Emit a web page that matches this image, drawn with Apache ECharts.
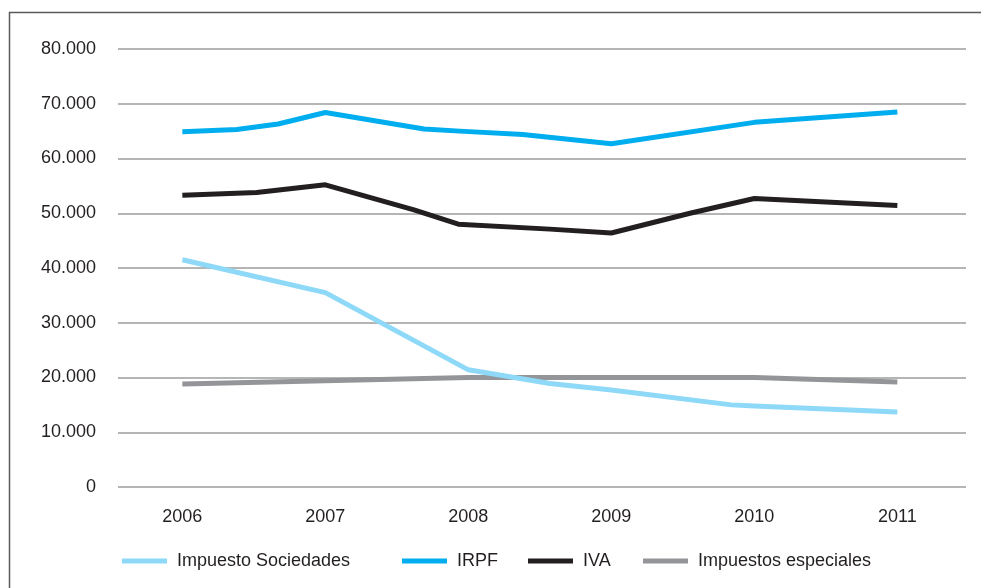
<!DOCTYPE html>
<html>
<head>
<meta charset="utf-8">
<script src="https://cdn.jsdelivr.net/npm/echarts@6/dist/echarts.min.js"></script>
<style>
html,body{margin:0;padding:0;background:#fff;}
#chart{width:981px;height:588px;}
</style>
</head>
<body>
<div id="chart"></div>
<script>
// Category (year) tick labels
const years = [2006, 2007, 2008, 2009, 2010, 2011];
const yTicks = [0, 10000, 20000, 30000, 40000, 50000, 60000, 70000, 80000];

// Series names
const seriesNames = ['Impuesto Sociedades', 'IRPF', 'IVA', 'Impuestos especiales'];

// Values: [year position, value]
const sociedades = [[2006, 41500], [2007, 35500], [2008, 21400], [2008.57, 18900], [2009, 17700], [2009.84, 15000], [2010, 14800], [2011, 13700]];
const irpf = [[2006, 64900], [2006.38, 65300], [2006.67, 66300], [2007, 68400], [2007.69, 65400], [2007.94, 65000], [2008.38, 64400], [2009, 62700], [2010, 66600], [2011, 68500]];
const iva = [[2006, 53300], [2006.52, 53800], [2007, 55200], [2007.62, 50600], [2007.93, 48000], [2008.57, 47100], [2009, 46400], [2009.55, 50000], [2010, 52700], [2011, 51400]];
const especiales = [[2006, 18800], [2007, 19400], [2008, 20000], [2009, 20000], [2010, 20000], [2011, 19200]];

const colors = ['#8ED8F8', '#00AEEF', '#231F20', '#939598'];
const FONT = "'Liberation Sans', Arial, sans-serif";
const FS = 18;
const TXT = '#231F20';

function fmt(v) {
  return String(v).replace(/\B(?=(\d{3})+(?!\d))/g, '.');
}

const chart = echarts.init(document.getElementById('chart'), null, {renderer: 'canvas'});

const legendLefts = [122, 402, 528, 643];
const legends = seriesNames.map((n, i) => ({
  data: [n],
  left: legendLefts[i],
  top: 552,
  padding: 0,
  orient: 'horizontal',
  icon: 'rect',
  itemWidth: 45,
  itemHeight: 5,
  selectedMode: false,
  textStyle: {fontFamily: FONT, fontSize: FS, color: TXT, padding: [0, 0, 0, 5]}
}));

const dataSets = [sociedades, irpf, iva, especiales];

chart.setOption({
  animation: false,
  backgroundColor: '#fff',
  color: colors,
  graphic: [{
    type: 'rect',
    shape: {x: 9.5, y: 12.5, width: 1000, height: 600},
    style: {fill: null, stroke: '#5a5a5a', lineWidth: 1.5},
    silent: true,
    z: 100
  }],
  legend: legends,
  grid: {left: 118, right: 15, top: 49, height: 438, containLabel: false, outerBoundsMode: 'none'},
  xAxis: {
    type: 'value',
    min: 2005.55,
    max: 2011.48,
    axisLine: {show: false},
    axisTick: {show: false},
    splitLine: {show: false},
    axisLabel: {
      customValues: years,
      formatter: v => String(Math.round(v)),
      fontFamily: FONT, fontSize: FS, color: TXT, margin: 21
    }
  },
  yAxis: {
    type: 'value',
    min: 0,
    max: 80000,
    interval: 10000,
    axisLine: {show: false},
    axisTick: {show: false},
    splitLine: {show: true, lineStyle: {color: '#9d9d9d', width: 1.5}},
    axisLabel: {
      formatter: v => fmt(v),
      fontFamily: FONT, fontSize: FS, color: TXT, margin: 22
    }
  },
  series: seriesNames.map((n, i) => ({
    name: n,
    type: 'line',
    data: dataSets[i],
    showSymbol: false,
    symbol: 'none',
    lineStyle: {width: 5, color: colors[i], cap: 'butt', join: 'round'},
    itemStyle: {color: colors[i]},
    z: [3, 4, 4, 2][i]
  }))
});
</script>
</body>
</html>
